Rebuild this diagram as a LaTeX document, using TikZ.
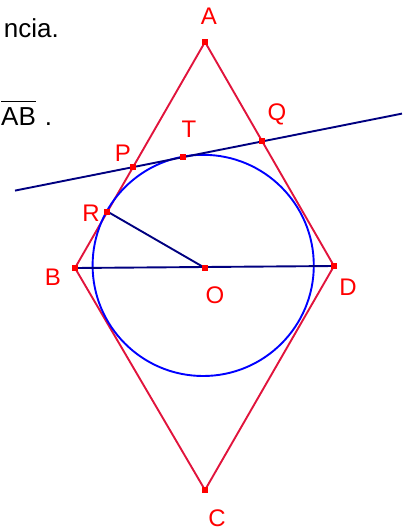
\documentclass[tikz,border=0pt]{standalone}
\usepackage{fontspec}
\setmainfont{Liberation Sans}
\usetikzlibrary{calc}
\begin{document}
\begin{tikzpicture}[x=1pt,y=-1pt,
  rhomb/.style={draw={rgb,255:red,225;green,20;blue,60},line width=1.9pt,line join=miter},
  navyline/.style={draw={rgb,255:red,0;green,0;blue,128},line width=1.9pt},
  circ/.style={draw={rgb,255:red,0;green,0;blue,255},line width=1.9pt},
  pt/.style={fill={rgb,255:red,255;green,0;blue,0}},
  lbl/.style={text={rgb,255:red,255;green,0;blue,0},font=\fontsize{24}{24}\selectfont,inner sep=0pt,anchor=base},
  txt/.style={font=\fontsize{26}{26}\selectfont,inner sep=0pt}]
\useasboundingbox (0,0) rectangle (404,531);
% points
\coordinate (A) at (205,42);
\coordinate (B) at (75,268);
\coordinate (C) at (205,490);
\coordinate (D) at (334,266);
\coordinate (O) at (205,268);
\coordinate (R) at (107.3,211.5);
\coordinate (T) at (183.3,156.5);
\coordinate (L1) at (15,190.6);
\coordinate (L2) at (402,113.6);
\coordinate (P) at (intersection of A--B and L1--L2);
\coordinate (Q) at (intersection of A--D and L1--L2);
% figure
\draw[rhomb] (A) -- (B) -- (C) -- (D) -- cycle;
\draw[circ] ($(O)+(-1.8,-2.6)$) circle[radius=110.6pt];
\draw[navyline] (L1) -- (L2);
\draw[navyline] (B) -- (D);
\draw[navyline] (R) -- (O);
\foreach \p in {A,B,C,D,O,R,T,P,Q}
  \fill[pt] ($(\p)+(-3,-3)$) rectangle ($(\p)+(3,3)$);
% labels
\node[lbl] (lA) at (209,24) {A};
\node[lbl] (lT) at (189,137) {T};
\node[lbl] (lQ) at (277,120) {Q};
\node[lbl] (lP) at (123,161) {P};
\node[lbl] (lR) at (91,221) {R};
\node[lbl] (lB) at (53,285) {B};
\node[lbl] (lO) at (215,303) {O};
\node[lbl] (lD) at (348,295) {D};
\node[lbl] (lC) at (217,526) {C};
% text
\node[txt,anchor=base east] (t1) at (59,37) {ncia.};
\node[txt,anchor=base west] (t2) at (1,125) {$\overline{\mbox{AB}\rule{0pt}{22pt}}$\hspace{9pt}.};
\end{tikzpicture}
\end{document}
